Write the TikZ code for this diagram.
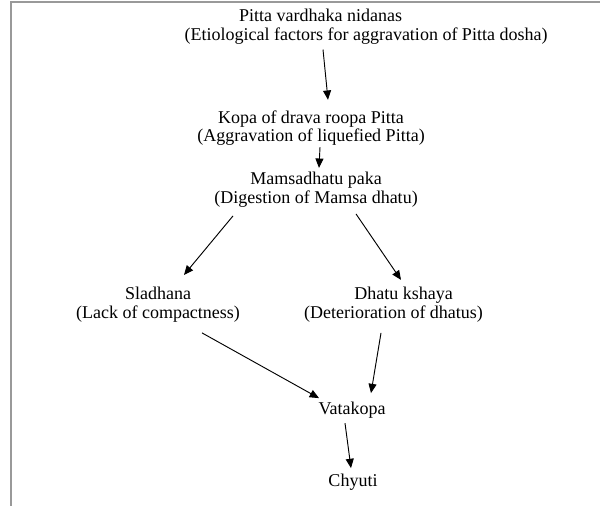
\documentclass[tikz,border=0pt]{standalone}
\usepackage{fontspec}
\setmainfont{Liberation Serif}
\usetikzlibrary{arrows.meta}
\definecolor{framegray}{gray}{0.6}
\begin{document}
\begin{tikzpicture}[x=0.75pt, y=-0.75pt,
    box/.style={align=center, inner sep=0pt, outer sep=0pt, font=\fontsize{13.5}{14}\selectfont},
    arr/.style={-{Triangle[length=7pt, width=6pt]}, line width=0.7pt}]
    \useasboundingbox (0,0) rectangle (600,506);
    \draw[framegray, line width=1.5pt] (10.5,506) -- (10.5,2.3) -- (600,2.3);
    %nodes
    \node[box, align=left] at (366,27) (nid) {\hspace*{41pt}Pitta vardhaka nidanas\\(Etiological factors for aggravation of Pitta dosha)};
    \node[box] at (311,128) (kopa) {Kopa of drava roopa Pitta\\(Aggravation of liquefied Pitta)};
    \node[box] at (316,190) (mams) {Mamsadhatu paka\\(Digestion of Mamsa dhatu)};
    \node[box] at (158,305) (slad) {Sladhana\\(Lack of compactness)};
    \node[box] at (393.5,305) (dhat) {\hspace*{15pt}Dhatu kshaya\\(Deterioration of dhatus)};
    \node[box] at (352,410) (vata) {Vatakopa};
    \node[box] at (353,482) (chyu) {Chyuti};
    %arrows
    \path[arr]
        ([shift={(-43,5)}]nid.south) edge ([shift={(17,-10.6)}]kopa.north)
        ([shift={(9,1.5)}]kopa.south) edge ([shift={(3,-4.6)}]mams.north)
        ([shift={(-83,8.4)}]mams.south) edge ([shift={(26,-12.6)}]slad.north)
        ([shift={(40,6.4)}]mams.south) edge ([shift={(7.5,-7.6)}]dhat.north)
        ([shift={(44,10.4)}]slad.south) edge ([shift={(-33,-3.7)}]vata.north)
        ([shift={(-12.5,10.4)}]dhat.south) edge ([shift={(19,-8.7)}]vata.north)
        ([shift={(-7,5)}]vata.south) edge ([shift={(-2,-5.7)}]chyu.north);
\end{tikzpicture}
\end{document}
